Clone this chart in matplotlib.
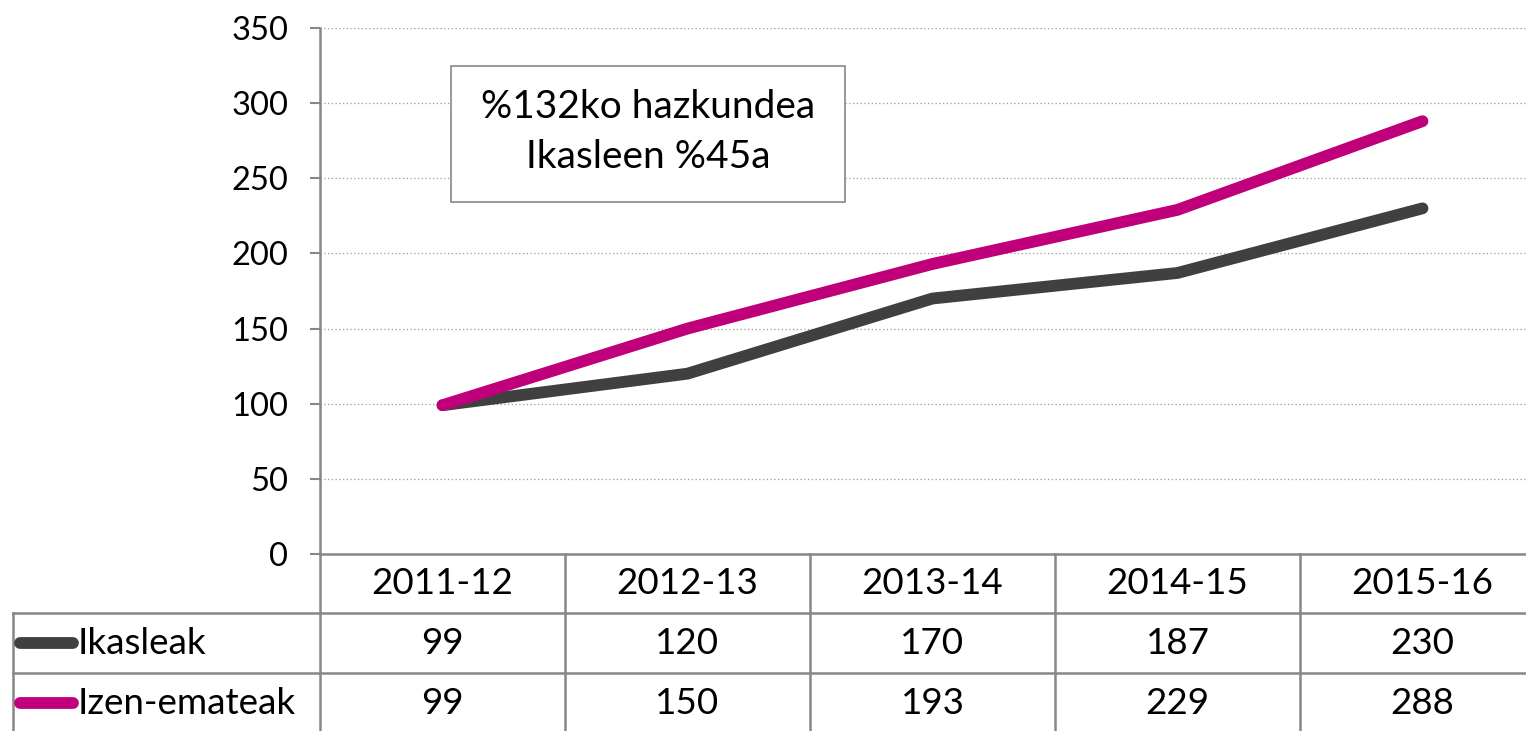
import matplotlib.pyplot as plt
from matplotlib.patches import Rectangle

years = ["2011-12", "2012-13", "2013-14", "2014-15", "2015-16"]
ikasleak = [99, 120, 170, 187, 230]
izen_emateak = [99, 150, 193, 229, 288]
series_names = ["Ikasleak", "Izen-emateak"]
box_lines = ["%132ko hazkundea", "Ikasleen %45a"]

plt.rcParams["font.family"] = ["Lato", "DejaVu Sans"]
GRAY = "#878787"
COLORS = ["#404040", "#C0007A"]
FS = 26.5
LW = 8.5

W, H = 1526, 731
fig = plt.figure(figsize=(W / 100, H / 100), dpi=100)
ax = fig.add_axes([320 / W, (H - 554) / H, 1225 / W, 526 / H])

x = list(range(len(years)))
for vals, col in zip([ikasleak, izen_emateak], COLORS):
    ax.plot(x, vals, color=col, lw=LW, solid_capstyle="round", solid_joinstyle="round", zorder=3)

ax.set_xlim(-0.5, len(years) - 0.5)
ax.set_ylim(0, 350)
ax.set_yticks(range(0, 351, 50))
ax.yaxis.grid(True, color="#9a9a9a", linestyle=(0, (1, 2)), lw=0.9)
ax.set_axisbelow(True)
ax.set_xticks([])
for s in ["top", "right"]:
    ax.spines[s].set_visible(False)
for s in ["left", "bottom"]:
    ax.spines[s].set_color(GRAY)
    ax.spines[s].set_linewidth(1.8)
ax.tick_params(axis="y", length=7, width=1.5, color=GRAY, labelsize=23.5, pad=16)

# data table under the plot
tr = ax.get_xaxis_transform()
px = lambda p: (p - 320) / 1225  # figure pixel -> axes x
py = lambda p: (554 - p) / 526   # figure pixel -> axes y
row_lines = [py(613), py(673)]
bottom = py(731)
for xb in [i - 0.5 for i in range(len(years) + 1)]:
    ax.plot([xb, xb], [0, bottom], transform=tr, color=GRAY, lw=1.8, clip_on=False)
for yl in row_lines:
    ax.plot([px(13), 1.0], [yl, yl], transform=ax.transAxes, color=GRAY, lw=1.8, clip_on=False)
ax.plot([px(13), px(13)], [row_lines[0], bottom], transform=ax.transAxes, color=GRAY, lw=1.8, clip_on=False)

row_y = [py(584), py(643), py(703)]
for i, yr in enumerate(years):
    ax.text(i, row_y[0], yr, transform=tr, ha="center", va="center", fontsize=FS)
for r, vals in enumerate([ikasleak, izen_emateak]):
    for i, v in enumerate(vals):
        ax.text(i, row_y[r + 1], str(v), transform=tr, ha="center", va="center", fontsize=FS)
    ax.plot([px(20), px(73)], [row_y[r + 1]] * 2, transform=ax.transAxes, color=COLORS[r],
            lw=LW, solid_capstyle="round", clip_on=False)
    ax.text(px(78), row_y[r + 1], series_names[r], transform=ax.transAxes, ha="left",
            va="center", fontsize=FS)

# annotation box
ax.add_patch(Rectangle((px(451), py(202)), px(845) - px(451), py(66) - py(202),
                       transform=ax.transAxes, fill=True, facecolor="white",
                       edgecolor=GRAY, lw=1.2, zorder=4))
for yy, t in zip([py(107), py(157)], box_lines):
    ax.text(px(648), yy, t, transform=ax.transAxes, ha="center", va="center",
            fontsize=28, zorder=5)

fig.savefig("out.png", dpi=100)
